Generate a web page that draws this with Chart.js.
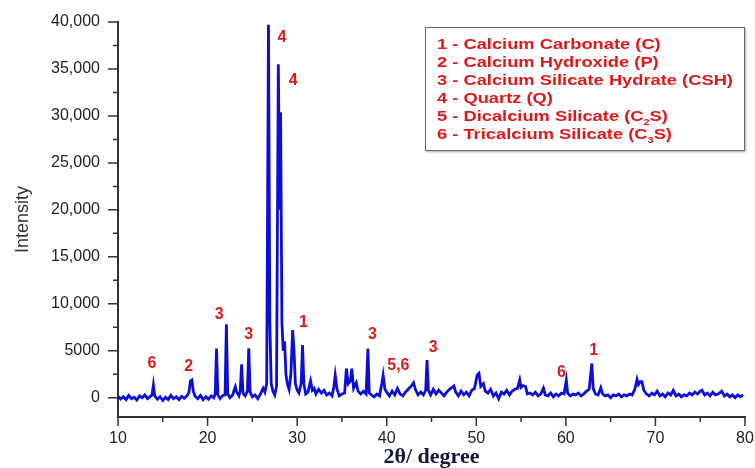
<!DOCTYPE html>
<html>
<head>
<meta charset="utf-8">
<script src="https://cdn.jsdelivr.net/npm/chart.js@4.4.1/dist/chart.umd.min.js"></script>
<style>
  body { margin: 0; background: #fff; }
  #wrap { position: relative; width: 755px; height: 468px; }
  #legendBox {
    position: absolute; left: 425px; top: 27px; width: 320px; height: 124px;
    border: 1px solid #666; box-shadow: 1px 1px 2px #aaa; background: #fff;
    font: bold 15px "Liberation Sans", Arial, sans-serif; color: #e01818;
    box-sizing: border-box; padding: 7px 0 0 11px; line-height: 18px;
  }
  #legendBox div { transform: scaleX(1.22); transform-origin: left center; white-space: nowrap; }
  #legendBox sub { font-size: 9px; line-height: 0; }
</style>
</head>
<body>
<div id="wrap">
  <canvas id="chartCanvas"></canvas>
  <div id="legendBox">
    <div>1 - Calcium Carbonate (C)</div>
    <div>2 - Calcium Hydroxide (P)</div>
    <div>3 - Calcium Silicate Hydrate (CSH)</div>
    <div>4 - Quartz (Q)</div>
    <div>5 - Dicalcium Silicate (C<sub>2</sub>S)</div>
    <div>6 - Tricalcium Silicate (C<sub>3</sub>S)</div>
  </div>
</div>
<script>
// 2theta (deg) and intensity
const twoTheta = [
  10.0, 10.3, 10.6, 10.9, 11.2, 11.5, 11.8, 12.1, 12.4, 12.7, 13.0, 13.3, 13.6,
  13.8, 13.95, 14.1, 14.4, 14.7, 15.0, 15.3, 15.6, 15.9, 16.2, 16.5, 16.8, 17.1, 17.4, 17.7,
  17.9, 18.1, 18.25, 18.4, 18.6, 18.9, 19.2, 19.5, 19.8, 20.1, 20.4, 20.7,
  20.85, 21.0, 21.15, 21.4, 21.7, 21.95, 22.1, 22.25, 22.5, 22.8, 23.0, 23.1, 23.25, 23.5,
  23.65, 23.8, 23.95, 24.2, 24.45, 24.6, 24.75, 25.0, 25.3, 25.6, 25.9, 26.2, 26.4, 26.6,
  26.8, 26.95, 27.1, 27.3, 27.5, 27.7, 27.9, 28.05, 28.15, 28.3, 28.45, 28.6, 28.75, 28.9,
  29.1, 29.3, 29.5, 29.65, 29.8, 30.0, 30.2, 30.45, 30.6, 30.75, 30.95, 31.2, 31.5, 31.7,
  31.9, 32.1, 32.4, 32.7, 33.0, 33.3, 33.6, 33.9, 34.1, 34.25, 34.45, 34.7, 35.0, 35.3,
  35.5, 35.7, 35.95, 36.1, 36.3, 36.6, 36.8, 37.1, 37.4, 37.7, 37.9, 38.05, 38.3, 38.6,
  38.9, 39.2, 39.45, 39.6, 39.8, 40.0, 40.3, 40.6, 40.9, 41.2, 41.5, 41.8, 42.1, 42.4,
  42.7, 43.0, 43.2, 43.5, 43.8, 44.1, 44.35, 44.5, 44.65, 44.9, 45.2, 45.5, 45.8, 46.1,
  46.4, 46.7, 47.0, 47.3, 47.5, 47.7, 48.0, 48.3, 48.6, 48.9, 49.2, 49.5, 49.8, 50.1,
  50.3, 50.5, 50.8, 51.0, 51.3, 51.6, 51.9, 52.2, 52.5, 52.8, 53.1, 53.4, 53.7, 54.0,
  54.3, 54.6, 54.85, 55.0, 55.2, 55.5, 55.7, 56.0, 56.3, 56.6, 56.9, 57.2, 57.5, 57.7,
  58.0, 58.3, 58.6, 58.9, 59.2, 59.5, 59.8, 60.05, 60.2, 60.5, 60.8, 61.1, 61.4, 61.7,
  62.0, 62.3, 62.6, 62.9, 63.05, 63.3, 63.6, 63.9, 64.1, 64.4, 64.7, 65.0, 65.3, 65.6,
  65.9, 66.2, 66.5, 66.8, 67.1, 67.4, 67.7, 67.95, 68.1, 68.3, 68.5, 68.7, 69.0, 69.3,
  69.6, 69.9, 70.2, 70.5, 70.8, 71.1, 71.4, 71.7, 72.0, 72.3, 72.6, 72.9, 73.2, 73.5,
  73.8, 74.1, 74.4, 74.7, 75.0, 75.2, 75.5, 75.8, 76.1, 76.4, 76.7, 77.0, 77.4, 77.7,
  78.0, 78.3, 78.6, 78.9, 79.2, 79.5, 79.8
];
const intensity = [
  150, -150, 100, -200, 250, -100, 50, -250, 200, 0, 300, -100, 150,
  300, 1350, 200, -150, 100, -300, 50, -200, 250, -100, 100, -200, 150, -50, 200,
  500, 1800, 1900, 700, 200, -100, 250, -200, 100, -150, 200, 0,
  400, 5240, 300, -100, 250, 300, 7830, 400, 0, 300, 900, 1170, 600, 200,
  800, 3570, 500, 200, 700, 5270, 600, 100, 300, -100, 400, 1000, 600, 1500,
  39700, 8000, 1500, 700, 300, 1200, 35500, 20000, 30400, 8000, 5000, 6000, 2500, 1500,
  900, 2500, 7200, 5000, 1500, 800, 500, 1500, 5600, 1500, 400, 600, 1800, 800,
  1000, 400, 900, 500, 800, 300, 500, 200, 1200, 2400, 900, 200, 400, 500,
  3100, 1500, 1800, 3100, 1000, 1600, 700, 400, 700, 400, 5240, 500, 300, 100,
  400, 200, 1500, 2400, 900, 600, 200, 700, 300, 1000, 400, 200, 600, 900,
  1200, 1600, 900, 300, 600, 300, 800, 4000, 800, 300, 900, 400, 800, 500,
  200, 600, 900, 1100, 1250, 600, 200, 700, 300, 600, 200, 800, 1000, 2400,
  2600, 1200, 1500, 700, 500, 900, 200, 500, -100, 600, 400, 800, 300, 700,
  900, 1000, 1900, 1100, 1300, 1200, 400, 500, 300, 600, 200, 400, 1030, 300,
  200, 500, 100, 400, 200, 500, 400, 1880, 500, 200, 400, 300, 500, 200,
  400, 700, 900, 3650, 1000, 400, 300, 1060, 400, 200, 300, 0, 300, 200,
  400, 100, 300, 200, 400, 300, 900, 1950, 1400, 1700, 1700, 800, 400, 200,
  500, 300, 700, 200, 400, 100, 500, 300, 800, 200, 400, 100, 300, 200,
  500, 300, 600, 400, 700, 800, 300, 500, 200, 600, 300, 400, 700, 200,
  400, 100, 300, 0, 300, 100, 300
];

// phase labels placed above the peaks
const peakLabels = ['4', '4', '3', '3', '1', '6', '2', '3', '5,6', '3', '6', '1'];
const peakLabelX = [28.3, 29.55, 21.3, 24.6, 30.7, 13.8, 17.9, 38.4, 41.3, 45.2, 59.5, 63.1];
const peakLabelY = [38300, 33800, 8900, 6750, 8050, 3600, 3350, 6750, 3450, 5300, 2650, 5050];

const yTicks = [0, 5000, 10000, 15000, 20000, 25000, 30000, 35000, 40000];
const yTickLabels = ['0', '5000', '10,000', '15,000', '20,000', '25,000', '30,000', '35,000', '40,000'];
const xTicks = [10, 20, 30, 40, 50, 60, 70, 80];

const tickMarks = {
  id: 'tickMarks',
  afterDraw(chart) {
    const ctx = chart.ctx;
    const xs = chart.scales.x, ys = chart.scales.y;
    const area = chart.chartArea;
    ctx.save();
    ctx.strokeStyle = '#333';
    ctx.lineWidth = 1.5;
    ctx.beginPath();
    for (let v = 10; v <= 80; v += 5) {
      const px = xs.getPixelForValue(v);
      const len = v % 10 === 0 ? 9 : 5;
      ctx.moveTo(px, area.bottom);
      ctx.lineTo(px, area.bottom + len);
    }
    for (let v = 0; v <= 40000; v += 2500) {
      const py = ys.getPixelForValue(v);
      const len = v % 5000 === 0 ? 10 : 5;
      ctx.moveTo(area.left, py);
      ctx.lineTo(area.left - len, py);
    }
    ctx.stroke();

    // peak labels
    ctx.fillStyle = '#e01818';
    ctx.font = 'bold 16px "Liberation Sans", Arial, sans-serif';
    ctx.textAlign = 'center';
    ctx.textBaseline = 'middle';
    peakLabels.forEach((t, i) => {
      ctx.fillText(t, xs.getPixelForValue(peakLabelX[i]), ys.getPixelForValue(peakLabelY[i]));
    });
    ctx.restore();
  }
};

const points = twoTheta.map((t, i) => ({ x: t, y: intensity[i] }));

new Chart('chartCanvas', {
  type: 'line',
  data: {
    datasets: [{
      data: points,
      borderColor: '#0d0dd8',
      borderWidth: 2.8,
      pointRadius: 0,
      tension: 0,
      fill: false
    }]
  },
  options: {
    responsive: true,
    maintainAspectRatio: false,
    animation: false,
    layout: { padding: { top: 22, right: 10, left: 0, bottom: 0 } },
    plugins: { legend: { display: false }, tooltip: { enabled: false } },
    scales: {
      x: {
        type: 'linear',
        min: 10, max: 80,
        grid: { display: false },
        border: { display: true, color: '#333', width: 2 },
        afterBuildTicks(s) { s.ticks = xTicks.map(v => ({ value: v })); },
        afterFit(s) { s.height = 51; s.paddingLeft = 0; s.paddingRight = 0; },
        ticks: {
          color: '#222', padding: 4,
          font: { family: '"Liberation Sans", Arial, sans-serif', size: 16 },
          maxRotation: 0
        },
        title: {
          display: true, text: '2θ/ degree', color: '#14143c',
          font: { family: '"Liberation Serif", "Times New Roman", serif', size: 22, weight: 'bold' },
          padding: { top: 0, bottom: -3 }
        }
      },
      y: {
        min: -2050, max: 40000,
        grid: { display: false },
        border: { display: true, color: '#333', width: 2 },
        afterBuildTicks(s) { s.ticks = yTicks.map(v => ({ value: v })); },
        afterFit(s) { s.width = 118; s.paddingTop = 0; s.paddingBottom = 0; },
        ticks: {
          color: '#222', padding: 10,
          font: { family: '"Liberation Sans", Arial, sans-serif', size: 16 },
          callback: (v, i) => yTickLabels[i]
        },
        title: {
          display: true, text: 'Intensity', color: '#333',
          font: { family: '"Liberation Sans", Arial, sans-serif', size: 18 },
          padding: { top: 12, bottom: 0 }
        }
      }
    }
  },
  plugins: [tickMarks]
});
</script>
</body>
</html>
